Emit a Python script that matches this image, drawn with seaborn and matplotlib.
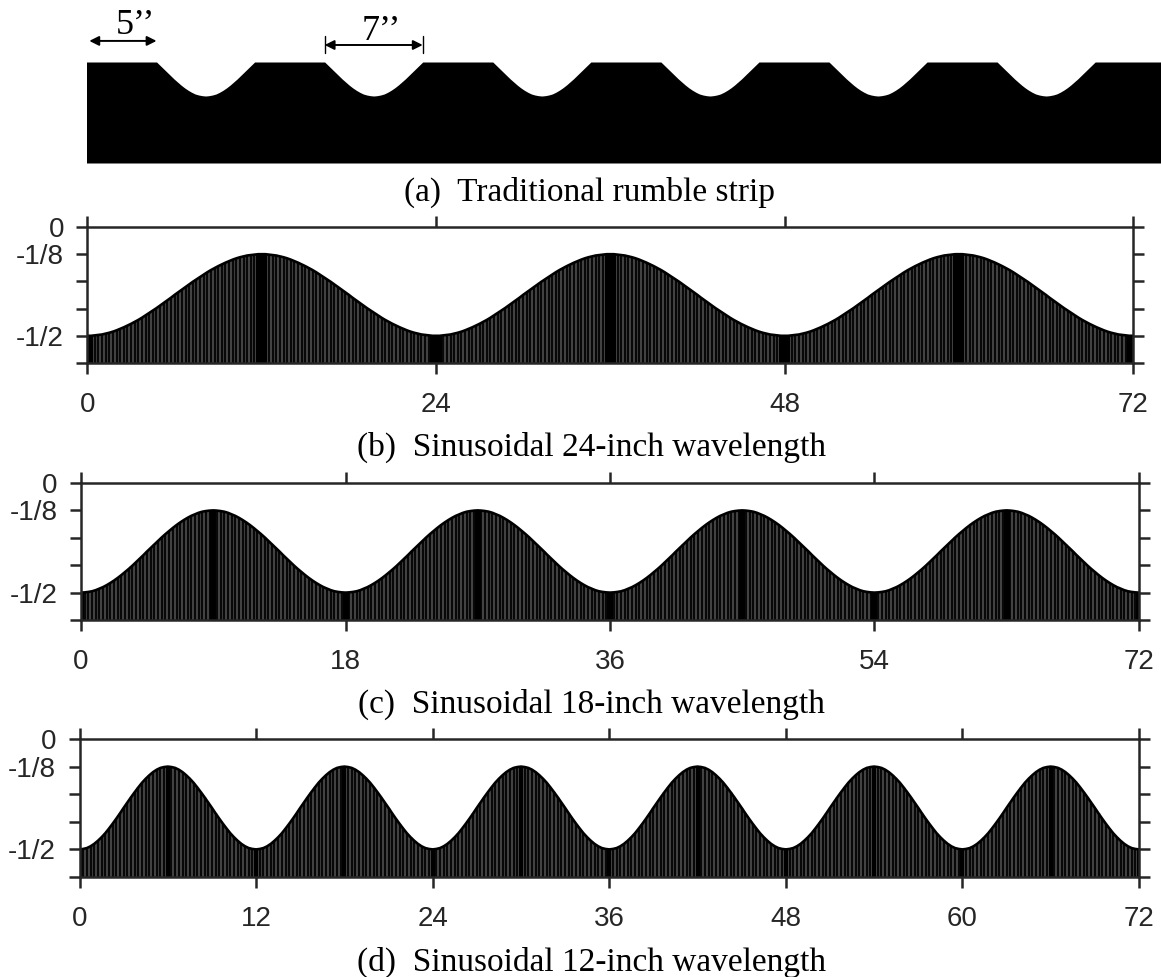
import numpy as np
import seaborn as sns
import matplotlib
matplotlib.use("Agg")
import matplotlib.pyplot as plt

W, H = 1161, 977

# (a) groove profile (inches)
groove_starts = [5, 17, 29, 41, 53, 65]
groove_offsets = [0, .25, .5, .75, 1, 1.25, 1.5, 1.75, 2, 2.25, 2.5, 2.75, 3, 3.25, 3.5,
                  3.75, 4, 4.25, 4.5, 4.75, 5, 5.25, 5.5, 5.75, 6, 6.25, 6.5, 6.75, 7]
groove_depths = [0, -.05, -.10, -.15, -.20, -.25, -.295, -.34, -.38, -.415, -.445, -.47, -.485, -.495, -.50,
                 -.495, -.485, -.47, -.445, -.415, -.38, -.34, -.295, -.25, -.20, -.15, -.10, -.05, 0]
strip_end = 76.7
strip_floor = -1.485

# (b)-(d) surface height every quarter inch over half a wave, trough to crest
half_24 = [-.500, -.500, -.498, -.496, -.494, -.490, -.486, -.481, -.475, -.468,
           -.461, -.453, -.445, -.436, -.427, -.417, -.406, -.395, -.384, -.373,
           -.361, -.349, -.337, -.325, -.312, -.300, -.288, -.276, -.264, -.252,
           -.241, -.230, -.219, -.208, -.198, -.189, -.180, -.172, -.164, -.157,
           -.150, -.144, -.139, -.135, -.131, -.129, -.127, -.125, -.125]
half_18 = [-.500, -.499, -.497, -.494, -.489, -.482, -.475, -.466, -.456, -.445,
           -.433, -.420, -.406, -.392, -.377, -.361, -.345, -.329, -.312, -.296,
           -.280, -.264, -.248, -.233, -.219, -.205, -.192, -.180, -.169, -.159,
           -.150, -.143, -.136, -.131, -.128, -.126, -.125]
half_12 = [-.500, -.498, -.494, -.486, -.475, -.461, -.445, -.427, -.406, -.384,
           -.361, -.337, -.312, -.288, -.264, -.241, -.219, -.198, -.180, -.164,
           -.150, -.139, -.131, -.127, -.125]

xticks_24 = [0, 24, 48, 72]
xticks_18 = [0, 18, 36, 54, 72]
xticks_12 = [0, 12, 24, 36, 48, 60, 72]
yticks = [-5/8, -1/2, -3/8, -1/4, -1/8, 0]
ylabels = ["", "-1/2", "", "", "-1/8", "0"]

captions = ["(a)  Traditional rumble strip", "(b)  Sinusoidal 24-inch wavelength",
            "(c)  Sinusoidal 18-inch wavelength", "(d)  Sinusoidal 12-inch wavelength"]

sns.set_theme(style="ticks")
plt.rcParams["font.family"] = ["Liberation Sans", "DejaVu Sans"]

fig = plt.figure(figsize=(W / 100, H / 100), dpi=100)


def axes_px(left, right, top, bottom):
    return fig.add_axes([left / W, 1 - bottom / H, (right - left) / W, (bottom - top) / H])


def tile_wave(half, periods):
    # mirror the read half wave, then repeat it along the strip
    half = np.array(half)
    one = np.r_[half, half[-2:0:-1]]
    return np.r_[np.tile(one, periods), half[0]]


# (a) traditional strip
ax = axes_px(86.5, 1161, 62, 163)
xs, ys = [0], [0]
for s in groove_starts:
    xs += [s + o for o in groove_offsets]
    ys += groove_depths
xs.append(strip_end)
ys.append(0)
ax.fill_between(xs, ys, strip_floor, color="black", lw=0)
ax.set_xlim(0, strip_end)
ax.set_ylim(strip_floor, 0)
ax.axis("off")

arrow = dict(arrowstyle="<|-|>", color="black", lw=1.4, shrinkA=0, shrinkB=0, mutation_scale=14)
ax.annotate("", xy=(0.2, 0.31), xytext=(5, 0.31), arrowprops=arrow, annotation_clip=False)
ax.annotate("", xy=(17, 0.25), xytext=(24, 0.25), arrowprops=arrow, annotation_clip=False)
for bar_x in [17, 24]:
    ax.plot([bar_x, bar_x], [0.13, 0.38], color="black", lw=1, clip_on=False)
fig.text(136 / W, 1 - 25 / H, "5’’", family="Liberation Serif", fontsize=26, color="black",
         ha="center", va="center")
fig.text(381 / W, 1 - 31 / H, "7’’", family="Liberation Serif", fontsize=26, color="black",
         ha="center", va="center")

# (b)-(d) sinusoidal strips
panels = [
    (half_24, 3, xticks_24, (87.5, 1133, 227, 363), 0.3, 2.9),
    (half_18, 4, xticks_18, (81, 1139, 483, 620), 0.1, 4.3),
    (half_12, 6, xticks_12, (79.5, 1139, 739, 877), 0.1, 2.9),
]
for half, periods, xticks, box, band, band_lw in panels:
    ax = axes_px(*box)
    y = tile_wave(half, periods)
    x = np.arange(len(y)) * 0.25
    half_wave = 0.25 * (len(half) - 1)
    near = np.abs(x / half_wave - np.round(x / half_wave)) * half_wave <= band
    ax.fill_between(x, y, -5/8, color="#4a4a4a", lw=0)
    ax.vlines(x, -5/8, y, color="#080808", linewidths=1.6)
    ax.vlines(x[near], -5/8, y[near], color="black", linewidths=band_lw)
    sns.lineplot(x=x, y=y, color="black", lw=1.9, ax=ax, legend=False)
    ax.set_xlim(0, 72)
    ax.set_ylim(-5/8, 0)
    ax.set_xticks(xticks)
    ax.set_yticks(yticks)
    ax.set_yticklabels(ylabels)
    ax.set_xlabel("")
    ax.set_ylabel("")
    ax.tick_params(top=True, right=True, direction="out", length=8, width=1.8,
                   labelsize=20, color="#262626", labelcolor="#262626")
    ax.tick_params(axis="x", pad=13)
    ax.tick_params(axis="y", pad=9)
    for sp in ax.spines.values():
        sp.set_linewidth(1.8)
        sp.set_color("#262626")

for cap, cx, cy in zip(captions, [589, 591, 591, 591], [192, 447, 704, 962]):
    fig.text(cx / W, 1 - cy / H, cap, family="Liberation Serif", fontsize=24, color="black",
             ha="center", va="center")

fig.savefig("out.png", dpi=100)
